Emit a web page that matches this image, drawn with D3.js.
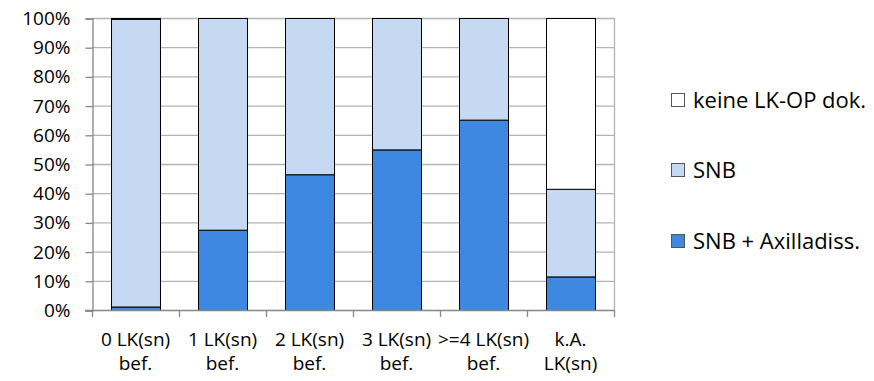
<!DOCTYPE html>
<html>
<head>
<meta charset="utf-8">
<script src="https://cdn.jsdelivr.net/npm/d3@7"></script>
<style>
  body { margin: 0; background: #fff; }
  svg { display: block; font-family: "Open Sans", "Noto Sans", sans-serif; }
</style>
</head>
<body>
<div id="chart"></div>
<script>
// data (percent of each group)
var categories = [["0 LK(sn)", "bef."], ["1 LK(sn)", "bef."], ["2 LK(sn)", "bef."],
                  ["3 LK(sn)", "bef."], [">=4 LK(sn)", "bef."], ["k.A.", "LK(sn)"]];
var seriesNames = ["SNB + Axilladiss.", "SNB", "keine LK-OP dok."];
var axillaValues = [1.2, 27.5, 46.5, 55.0, 65.2, 11.5];
var snbValues    = [98.5, 72.5, 53.5, 45.0, 34.8, 30.0];
var keineValues  = [0.3, 0, 0, 0, 0, 58.5];
var yTicks = [0, 10, 20, 30, 40, 50, 60, 70, 80, 90, 100];

var colors = ["#3f88e2", "#c6d9f3", "#ffffff"];

var width = 874, height = 381,
    margin = {top: 18, right: 260, bottom: 71, left: 92};

var svg = d3.select("#chart").append("svg")
  .attr("width", width)
  .attr("height", height);

var x = d3.scaleBand()
  .domain(d3.range(categories.length))
  .range([margin.left, width - margin.right])
  .paddingInner(0.437)
  .paddingOuter(0.2185);

var y = d3.scaleLinear()
  .domain([0, 100])
  .range([height - margin.bottom, margin.top]);

// gridlines
svg.append("g")
  .selectAll("line")
  .data(yTicks.slice(1))
  .enter().append("line")
  .attr("x1", margin.left)
  .attr("x2", width - margin.right)
  .attr("y1", function(d) { return y(d) + 0.5; })
  .attr("y2", function(d) { return y(d) + 0.5; })
  .style("stroke", "#b3b3b3")
  .style("stroke-width", 1.3);

// right border of plot area
svg.append("line")
  .attr("x1", width - margin.right + 0.5)
  .attr("x2", width - margin.right + 0.5)
  .attr("y1", y(100))
  .attr("y2", y(0))
  .style("stroke", "#b3b3b3")
  .style("stroke-width", 1.3);

// stack the three series
var rows = categories.map(function(c, i) {
  return {i: i, a: axillaValues[i], s: snbValues[i], k: keineValues[i]};
});
var stack = d3.stack().keys(["a", "s", "k"]);
var layers = stack(rows);

svg.append("g")
  .selectAll("g")
  .data(layers)
  .enter().append("g")
  .style("fill", function(d, i) { return colors[i]; })
  .selectAll("rect")
  .data(function(d) { return d.filter(function(p) { return p[1] - p[0] > 0; }); })
  .enter().append("rect")
  .attr("x", function(d) { return x(d.data.i) + 0.5; })
  .attr("y", function(d) { return y(d[1]) + 0.5; })
  .attr("width", x.bandwidth())
  .attr("height", function(d) { return y(d[0]) - y(d[1]); })
  .style("stroke", "#000")
  .style("stroke-width", 1);

// y axis
var yAxis = d3.axisLeft(y)
  .tickValues(yTicks)
  .tickFormat(function(d) { return d + "%"; })
  .tickSize(7)
  .tickPadding(15);

var gy = svg.append("g")
  .attr("transform", "translate(" + (margin.left + 0.5) + ",0.5)")
  .call(yAxis);
gy.attr("font-family", null).attr("font-size", null);
gy.select(".domain").style("stroke", "#868686").style("stroke-width", 1.3);
gy.selectAll(".tick line").style("stroke", "#868686").style("stroke-width", 1.3);
gy.selectAll("text").style("font-size", "19px").style("fill", "#000");

// x axis: ticks between categories
var edges = d3.range(categories.length + 1).map(function(i) {
  return margin.left + i * (width - margin.left - margin.right) / categories.length;
});
svg.append("line")
  .attr("x1", margin.left - 7)
  .attr("x2", width - margin.right)
  .attr("y1", y(0) + 0.5)
  .attr("y2", y(0) + 0.5)
  .style("stroke", "#868686")
  .style("stroke-width", 1.3);
svg.append("g")
  .selectAll("line")
  .data(edges)
  .enter().append("line")
  .attr("x1", function(d) { return d + 0.5; })
  .attr("x2", function(d) { return d + 0.5; })
  .attr("y1", y(0))
  .attr("y2", y(0) + 7)
  .style("stroke", "#868686")
  .style("stroke-width", 1.3);

// category labels
var labels = svg.append("g")
  .selectAll("text")
  .data(categories)
  .enter().append("text")
  .attr("text-anchor", "middle")
  .style("font-size", "19px")
  .attr("transform", function(d, i) {
    return "translate(" + (x(i) + x.bandwidth() / 2) + "," + (y(0) + 36) + ")";
  });
labels.each(function(d) {
  var t = d3.select(this);
  t.append("tspan").attr("x", 0).attr("dy", 0).text(d[0]);
  t.append("tspan").attr("x", 0).attr("dy", 24).text(d[1]);
});

// legend (reverse order, top = keine)
var legendY = [100, 170, 241];
var legend = svg.append("g")
  .selectAll("g")
  .data([2, 1, 0])
  .enter().append("g")
  .attr("transform", function(d, i) { return "translate(671," + legendY[i] + ")"; });
legend.append("rect")
  .attr("x", 0.5)
  .attr("y", -6.5)
  .attr("width", 13)
  .attr("height", 13)
  .style("fill", function(d) { return colors[d]; })
  .style("stroke", "#555")
  .style("stroke-width", 1);
legend.append("text")
  .attr("x", 22)
  .attr("y", 0)
  .attr("dy", "0.35em")
  .style("font-size", "22px")
  .text(function(d) { return seriesNames[d]; });
</script>
</body>
</html>
